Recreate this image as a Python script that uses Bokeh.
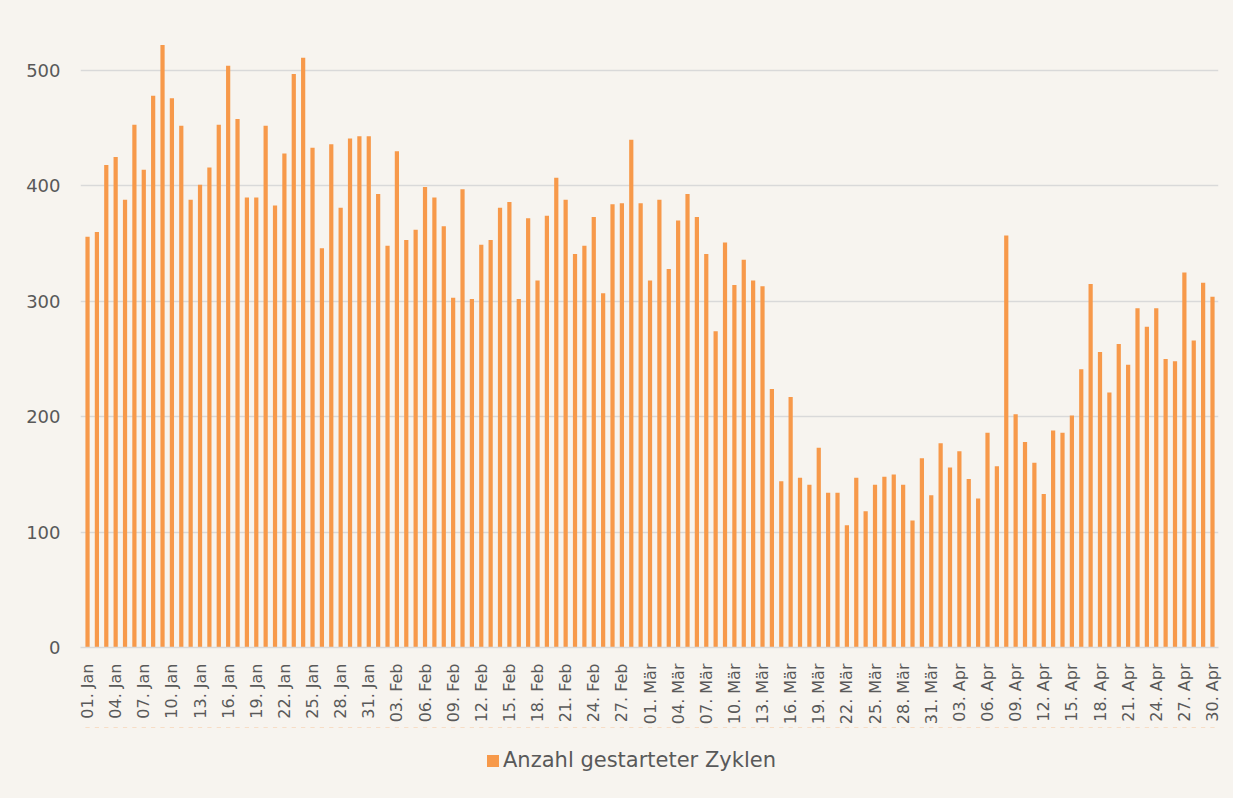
import math
import datetime
from bokeh.plotting import figure
from bokeh.layouts import column
from bokeh.models import FixedTicker, Legend, LegendItem, ColumnDataSource, Range1d
from bokeh.embed import file_html
from bokeh.resources import INLINE

# ---- data ----
month_names = ["Jan", "Feb", "Mär", "Apr"]
start_date = datetime.date(2020, 1, 1)
n_days = 121
dates = []
for i in range(n_days):
    d = start_date + datetime.timedelta(days=i)
    dates.append(f"{d.day:02d}. {month_names[d.month - 1]}")

values = [
    356, 360, 418, 425, 388, 453, 414, 478, 522, 476,
    452, 388, 401, 416, 453, 504, 458, 390, 390, 452,
    383, 428, 497, 511, 433, 346, 436, 381, 441, 443,
    443, 393, 348, 430, 353, 362, 399, 390, 365, 303,
    397, 302, 349, 353, 381, 386, 302, 372, 318, 374,
    407, 388, 341, 348, 373, 307, 384, 385, 440, 385,
    318, 388, 328, 370, 393, 373, 341, 274, 351, 314,
    336, 318, 313, 224, 144, 217, 147, 141, 173, 134,
    134, 106, 147, 118, 141, 148, 150, 141, 110, 164,
    132, 177, 156, 170, 146, 129, 186, 157, 357, 202,
    178, 160, 133, 188, 186, 201, 241, 315, 256, 221,
    263, 245, 294, 278, 294, 250, 248, 325, 266, 316,
    304,
]
series_name = "Anzahl gestarteter Zyklen"
y_ticks = [0, 100, 200, 300, 400, 500]
label_step = 3

# ---- style ----
BG = "#f7f4ef"
BAR = "#f7994a"
TXT = "#595959"
GRID = "#d9d9d9"
FONT = "DejaVu Sans"
W = 1233

source = ColumnDataSource(dict(x=list(range(len(values))), top=values, date=dates))

p = figure(
    width=W, height=727,
    x_range=Range1d(-0.75, 120.64),
    y_range=Range1d(0, 560.6),
    output_backend="svg", toolbar_location=None,
    min_border_left=80, min_border_right=15, min_border_top=0, min_border_bottom=80,
    background_fill_color=None, border_fill_color=BG,
)
p.outline_line_color = None

r = p.vbar(x="x", top="top", width=0.45, source=source,
           fill_color=BAR, line_color=None)

ticks = list(range(0, len(values), label_step))
p.xaxis.ticker = FixedTicker(ticks=ticks)
p.xaxis.major_label_overrides = {t: dates[t] for t in ticks}
p.xaxis.major_label_orientation = math.pi / 2
p.xaxis.major_tick_line_color = None
p.xaxis.minor_tick_line_color = None
p.xaxis.axis_line_color = GRID
p.xaxis.axis_line_width = 1.5
p.xaxis.major_label_text_font = FONT
p.xaxis.major_label_text_font_size = "16px"
p.xaxis.major_label_text_color = TXT
p.xaxis.major_label_standoff = 10

p.yaxis.ticker = FixedTicker(ticks=y_ticks)
p.yaxis.axis_line_color = None
p.yaxis.major_tick_line_color = None
p.yaxis.minor_tick_line_color = None
p.yaxis.major_label_text_font = FONT
p.yaxis.major_label_text_font_size = "18px"
p.yaxis.major_label_text_color = TXT
p.yaxis.major_label_standoff = 14

p.xgrid.grid_line_color = None
p.ygrid.grid_line_color = GRID
p.ygrid.grid_line_width = 1.5

# ---- legend strip below the chart (its frame is aligned with the chart frame) ----
leg_fig = figure(
    width=W, height=71,
    x_range=Range1d(-0.75, 120.64), y_range=Range1d(0, 71),
    output_backend="svg", toolbar_location=None,
    x_axis_type=None, y_axis_type=None,
    min_border=0, background_fill_color=None, border_fill_color=BG,
)
leg_fig.outline_line_color = None
leg_fig.grid.visible = False
# same series drawn with zero height: only its legend swatch is visible
leg_r = leg_fig.vbar(x="x", top="top", bottom="top", width=0.45, source=source,
                     fill_color=BAR, line_color=None)

legend = Legend(
    items=[LegendItem(label=series_name, renderers=[leg_r])],
    location=(405, 26), orientation="horizontal",
    background_fill_alpha=0, border_line_color=None,
    glyph_width=15, glyph_height=15, label_standoff=3,
    padding=0, margin=0,
    label_text_font=FONT, label_text_font_size="21px", label_text_color=TXT,
)
leg_fig.add_layout(legend)

layout = column(p, leg_fig, spacing=0, styles={"background-color": BG})
open("out.html", "w").write(file_html(layout, INLINE))
